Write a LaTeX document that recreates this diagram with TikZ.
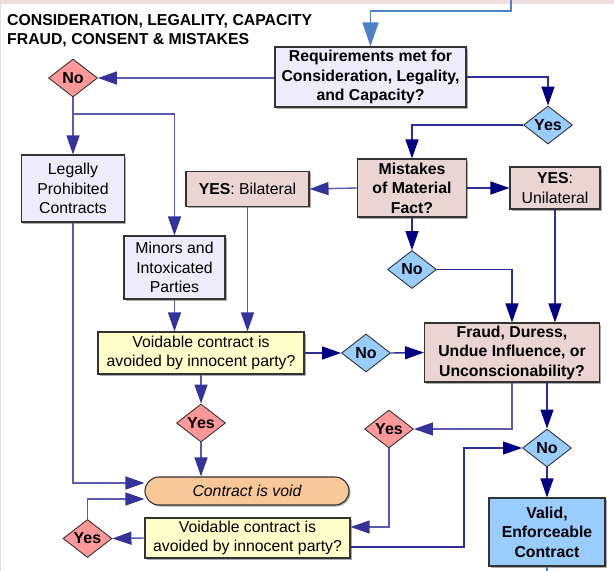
\documentclass[tikz,border=0pt]{standalone}
\usepackage{fontspec}
\setmainfont{Liberation Sans}
\usetikzlibrary{arrows.meta,shapes.geometric,shadows,calc}
\definecolor{lavfill}{HTML}{EEEBFB}
\definecolor{pinkfill}{HTML}{EBD5D3}
\definecolor{yelfill}{HTML}{FFFFCC}
\definecolor{orafill}{HTML}{F9C898}
\definecolor{bluedia}{HTML}{99CCFF}
\definecolor{reddia}{HTML}{FF9999}
\definecolor{boxline}{HTML}{333333}
\definecolor{lineI}{HTML}{5B5BB0}
\definecolor{arrI}{HTML}{333399}
\definecolor{lineN}{HTML}{2E2E90}
\definecolor{arrN}{HTML}{000080}
\definecolor{topblue}{HTML}{4F81C7}
\definecolor{topband}{HTML}{F0E0DC}
\begin{document}
\begin{tikzpicture}[x=1pt,y=-1pt,
  box/.style={draw=boxline, line width=1.1pt, inner sep=0pt, align=center,
    drop shadow={shadow xshift=1.5pt,shadow yshift=-1.5pt,opacity=.55,fill=black!60}},
  bftext/.style={font=\fontsize{15.8}{19.5}\selectfont\bfseries},
  rmtext/.style={font=\fontsize{15.8}{19.5}\selectfont},
  dia/.style={diamond, draw=boxline, line width=0.9pt, inner sep=0pt, aspect=1.3,
    minimum width=49pt, minimum height=38pt, font=\fontsize{16}{18}\selectfont\bfseries},
  arI/.style={draw=lineI, line width=1.4pt, -{Triangle[length=19pt,width=13pt,color=arrI]}},
  arN/.style={draw=lineN, line width=1.4pt, -{Triangle[length=19pt,width=13pt,color=arrN]}},
  ttl/.style={anchor=base west, inner sep=0pt, font=\fontsize{15.8}{19}\selectfont\bfseries}
]
\useasboundingbox (0,0) rectangle (614,571);
\fill[topband] (0,0) rectangle (614,3.5);
\draw[black!12, line width=1pt] (0.5,0) -- (0.5,571);

\node[ttl] (t1) at (7,25) {CONSIDERATION, LEGALITY, CAPACITY};
\node[ttl] (t2) at (7,44) {FRAUD, CONSENT \& MISTAKES};

% boxes
\node[box,bftext,fill=lavfill,minimum width=191pt,minimum height=60pt] (req) at (370.5,77)
  {Requirements met for\\Consideration, Legality,\\and Capacity?};
\node[box,bftext,fill=pinkfill,minimum width=109pt,minimum height=58pt] (mist) at (412,188)
  {Mistakes\\of Material\\Fact?};
\node[box,rmtext,fill=pinkfill,minimum width=123pt,minimum height=35pt] (bil) at (247.5,189)
  {\textbf{YES}: Bilateral};
\node[box,rmtext,fill=pinkfill,minimum width=90pt,minimum height=42pt] (uni) at (555,188)
  {\textbf{YES}:\\Unilateral};
\node[box,rmtext,fill=lavfill,minimum width=103pt,minimum height=67pt] (legal) at (73,188.5)
  {Legally\\Prohibited\\Contracts};
\node[box,rmtext,fill=lavfill,minimum width=101pt,minimum height=63pt] (minors) at (174.5,267.5)
  {Minors and\\Intoxicated\\Parties};
\node[box,rmtext,fill=yelfill,minimum width=206pt,minimum height=42pt] (void1) at (201,353)
  {Voidable contract is\\avoided by innocent party?};
\node[box,bftext,fill=pinkfill,minimum width=175pt,minimum height=59pt] (fraud) at (512,352.5)
  {Fraud, Duress,\\Undue Influence, or\\Unconscionability?};
\node[box,rmtext,fill=orafill,rounded corners=14pt,minimum width=204pt,minimum height=28pt] (void) at (247,491)
  {\itshape Contract is void};
\node[box,rmtext,fill=yelfill,minimum width=205pt,minimum height=40pt] (void2) at (247.5,538)
  {Voidable contract is\\avoided by innocent party?};
\node[box,bftext,fill=bluedia,minimum width=116pt,minimum height=68pt] (valid) at (547,532)
  {Valid,\\Enforceable\\Contract};

% diamonds
\node[dia,fill=reddia] (noA) at (73,78) {No};
\node[dia,fill=bluedia] (yesA) at (548,125) {Yes};
\node[dia,fill=bluedia] (noB) at (412,269.5) {No};
\node[dia,fill=bluedia] (noC) at (366,353) {No};
\node[dia,fill=reddia] (yesB) at (201,423) {Yes};
\node[dia,fill=reddia] (yesC) at (389,429) {Yes};
\node[dia,fill=bluedia] (noD) at (547,448) {No};
\node[dia,fill=reddia] (yesD) at (87.5,538.5) {Yes};

% coordinates
\coordinate (top) at (511,0);
\coordinate (j1) at (73,114);
\coordinate (bot) at (547,571);

% connectors
\draw[draw=topblue, line width=1.6pt, -{Triangle[length=24pt,width=16pt,color=topblue]}]
  (top) -- ++(0,11) -| (req.north);
\draw[arI] (req.west |- noA.east) -- (noA.east);
\draw[arN] (req.east) -| (yesA.north);
\draw[arN] (yesA.west) -| (mist.north);
\draw[arI] (noA.south) -- (legal.north);
\draw[arI] (j1) -| (minors.north);
\draw[arI] (mist.west) -- (bil.east);
\draw[arN] (mist.east) -- (uni.west);
\draw[arN] (mist.south) -- (noB.north);
\draw[arN] (noB.east) -| (fraud.north);
\draw[arN] (uni.south) -- (uni.south |- fraud.north);
\draw[arI] (minors.south) -- (minors.south |- void1.north);
\draw[arI] (bil.south) -- (bil.south |- void1.north);
\draw[arN] (void1.east) -- (noC.west);
\draw[arN] (noC.east) -- (fraud.west);
\draw[arI] (void1.south) -- (yesB.north);
\draw[arI] (yesB.south) -- (yesB.south |- void.north);
\draw[arI] (legal.south) |- ([yshift=8pt]void.west);
\draw[arI] (yesD.north) |- ([yshift=-8pt]void.west);
\draw[arI] (void2.west) -- (yesD.east);
\draw[arI] (fraud.south) |- (yesC.east);
\draw[arN] (noD.north |- fraud.south) -- (noD.north);
\draw[arI] (yesC.south) |- ([yshift=11pt]void2.east);
\draw[arN] ([yshift=-9pt]void2.east) -| ([xshift=-58pt]noD.west) -- (noD.west);
\draw[arN] (noD.south) -- (valid.north);
\draw[draw=topblue, line width=1.6pt] (valid.south) -- (bot);
\end{tikzpicture}
\end{document}
